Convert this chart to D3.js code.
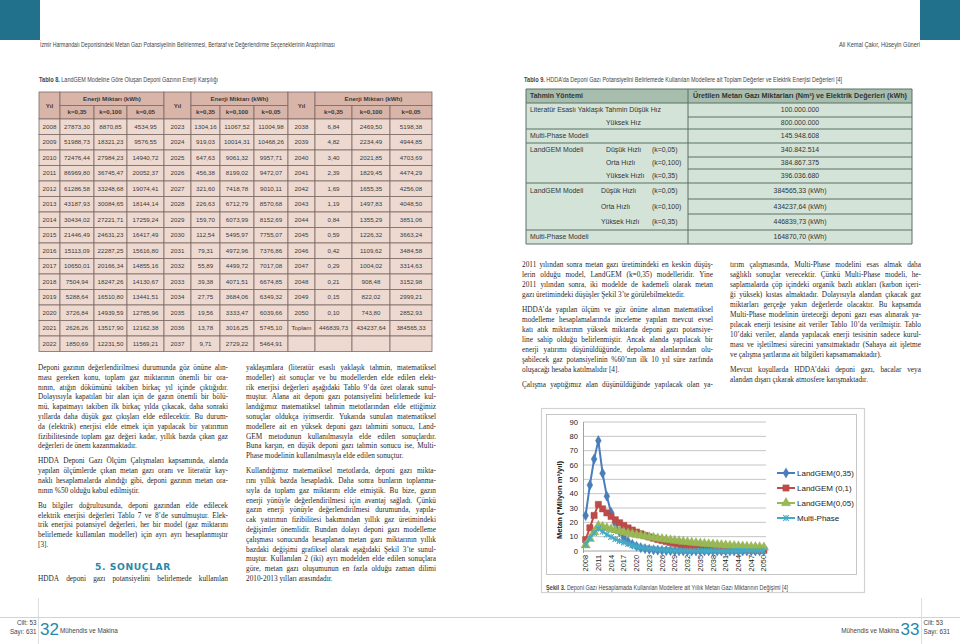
<!DOCTYPE html>
<html><head><meta charset="utf-8">
<script src="https://cdn.jsdelivr.net/npm/d3@7"></script>
<style>
body{margin:0;background:#fff;}
svg{display:block;}
.body{font-family:"Liberation Serif","Times New Roman",serif;font-size:7.3px;fill:#2a2a2a;}
.tb{font-family:"Liberation Sans",Arial,sans-serif;font-size:6.2px;fill:#3a3a3a;}
.tb9{font-family:"Liberation Sans",Arial,sans-serif;font-size:6.9px;fill:#333;}
.nar{font-family:"Liberation Sans Narrow","Liberation Sans",Arial,sans-serif;fill:#444;}
.ch{font-family:"Liberation Sans",Arial,sans-serif;fill:#222;}
</style></head><body><svg id="page" width="960" height="644"></svg>
<script>
// ---------------- DATA ----------------
// Table 8
const tYearsA = ["2008","2009","2010","2011","2012","2013","2014","2015","2016","2017","2018","2019","2020","2021","2022"];
const tK35A = ["27873,30","51988,73","72476,44","86969,80","61286,58","43187,93","30434,02","21446,49","15113,09","10650,01","7504,94","5288,64","3726,84","2626,26","1850,69"];
const tK100A = ["8870,85","18321,23","27984,23","36745,47","33248,68","30084,65","27221,71","24631,23","22287,25","20166,34","18247,26","16510,80","14939,59","13517,90","12231,50"];
const tK05A = ["4534,95","9576,55","14940,72","20052,37","19074,41","18144,14","17259,24","16417,49","15616,80","14855,16","14130,67","13441,51","12785,96","12162,38","11569,21"];
const tYearsB = ["2023","2024","2025","2026","2027","2028","2029","2030","2031","2032","2033","2034","2035","2036","2037"];
const tK35B = ["1304,16","919,03","647,63","456,38","321,60","226,63","159,70","112,54","79,31","55,89","39,38","27,75","19,56","13,78","9,71"];
const tK100B = ["11067,52","10014,31","9061,32","8199,02","7418,78","6712,79","6073,99","5495,97","4972,96","4499,72","4071,51","3684,06","3333,47","3016,25","2729,22"];
const tK05B = ["11004,98","10468,26","9957,71","9472,07","9010,11","8570,68","8152,69","7755,07","7376,86","7017,08","6674,85","6349,32","6039,66","5745,10","5464,91"];
const tYearsC = ["2038","2039","2040","2041","2042","2043","2044","2045","2046","2047","2048","2049","2050","Toplam",""];
const tK35C = ["6,84","4,82","3,40","2,39","1,69","1,19","0,84","0,59","0,42","0,29","0,21","0,15","0,10","446839,73",""];
const tK100C = ["2469,50","2234,49","2021,85","1829,45","1655,35","1497,83","1355,29","1226,32","1109,62","1004,02","908,48","822,02","743,80","434237,64",""];
const tK05C = ["5198,38","4944,85","4703,69","4474,29","4256,08","4048,50","3851,06","3663,24","3484,58","3314,63","3152,98","2999,21","2852,93","384565,33",""];
const t8Heads = ["Yıl","Enerji Miktarı (kWh)","k=0,35","k=0,100","k=0,05"];

// Table 9
const t9Heads = ["Tahmin Yöntemi","Üretilen Metan Gazı Miktarları (Nm³) ve Elektrik Değerleri (kWh)"];
const t9Col1 = ["Literatür Esaslı Yaklaşık Tahmin Düşük Hız","","Multi-Phase Modeli","LandGEM Modeli","","","LandGEM Modeli","","","Multi-Phase Modeli"];
const t9Col2 = ["","Yüksek Hız","","Düşük Hızlı","Orta Hızlı","Yüksek Hızlı","Düşük Hızlı","Orta Hızlı","Yüksek Hızlı",""];
const t9Col3 = ["","","","(k=0,05)","(k=0,100)","(k=0,35)","(k=0,05)","(k=0,100)","(k=0,35)",""];
const t9Values = ["100.000.000","800.000.000","145.948.608","340.842.514","384.867.375","396.036.680","384565,33 (kWh)","434237,64 (kWh)","446839,73 (kWh)","164870,70 (kWh)"];

// Chart (Şekil 3), million m3 / year
const chartYears = [2008,2009,2010,2011,2012,2013,2014,2015,2016,2017,2018,2019,2020,2021,2022,2023,2024,2025,2026,2027,2028,2029,2030,2031,2032,2033,2034,2035,2036,2037,2038,2039,2040,2041,2042,2043,2044,2045,2046,2047,2048,2049,2050];
const xTickLabels = [2008,2011,2014,2017,2020,2023,2026,2029,2032,2035,2038,2041,2044,2047,2050];
const yTicks = [0,10,20,30,40,50,60,70,80,90];
const landgem035 = [24.7,46.0,64.1,77.0,54.2,38.2,26.9,19.0,13.4,9.4,6.6,4.7,3.3,2.3,1.6,1.2,0.8,0.6,0.4,0.3,0.2,0.1,0.1,0.07,0.05,0.03,0.02,0.02,0.01,0.01,0,0,0,0,0,0,0,0,0,0,0,0,0];
const landgem01 = [7.9,16.2,24.8,32.5,29.4,26.6,24.1,21.8,19.7,17.8,16.1,14.6,13.2,12.0,10.8,9.8,8.9,8.0,7.3,6.6,5.9,5.4,4.9,4.4,4.0,3.6,3.3,2.9,2.7,2.4,2.2,2.0,1.8,1.6,1.5,1.3,1.2,1.1,1.0,0.9,0.8,0.7,0.7];
const landgem005 = [4.0,8.5,13.2,17.7,16.9,16.1,15.3,14.5,13.8,13.1,12.5,11.9,11.3,10.8,10.2,9.7,9.3,8.8,8.4,8.0,7.6,7.2,6.9,6.5,6.2,5.9,5.6,5.3,5.1,4.8,4.6,4.4,4.2,4.0,3.8,3.6,3.4,3.2,3.1,2.9,2.8,2.7,2.5];
const multiPhase = [4.5,9.0,12.5,15.5,13.5,11.5,9.8,8.3,7.0,5.9,4.9,4.0,3.2,2.5,2.0,1.6,1.3,1.0,0.8,0.6,0.5,0.4,0.3,0.25,0.2,0.15,0.12,0.1,0.08,0.06,0.05,0.04,0.03,0.03,0.02,0.02,0.01,0.01,0.01,0.01,0,0,0];
const seriesNames = ["LandGEM(0,35)","LandGEM (0,1)","LandGEM(0,05)","Multi-Phase"];

// Texts
const headerLeft = "İzmir Harmandalı Deponisindeki Metan Gazı Potansiyelinin Belirlenmesi, Bertaraf ve Değerlendirme Seçeneklerinin Araştırılması";
const headerRight = "Ali Kemal Çakır, Hüseyin Güneri";
const col1Paras = [
["Deponi gazının değerlendirilmesi durumunda göz önüne alın-","ması gereken konu, toplam gaz miktarının önemli bir ora-","nının, atığın dökümünü takiben birkaç yıl içinde çıktığıdır.","Dolayısıyla kapatılan bir alan için de gazın önemli bir bölü-","mü, kapatmayı takiben ilk birkaç yılda çıkacak, daha sonraki","yıllarda daha düşük gaz çıkışları elde edilecektir. Bu durum-","da (elektrik) enerjisi elde etmek için yapılacak bir yatırımın","fizibilitesinde toplam gaz değeri kadar, yıllık bazda çıkan gaz","değerleri de önem kazanmaktadır."],
["HDDA Deponi Gazı Ölçüm Çalışmaları kapsamında, alanda","yapılan ölçümlerde çıkan metan gazı oranı ve literatür kay-","naklı hesaplamalarda alındığı gibi, deponi gazının metan ora-","nının %50 olduğu kabul edilmiştir."],
["Bu bilgiler doğrultusunda, deponi gazından elde edilecek","elektrik enerjisi değerleri Tablo 7 ve 8’de sunulmuştur. Elek-","trik enerjisi potansiyel değerleri, her bir model (gaz miktarını","belirlemede kullanılan modeller) için ayrı ayrı hesaplanmıştır","[3]."]
];
const col1Heading = "5. SONUÇLAR";
const col1Tail = ["HDDA deponi gazı potansiyelini belirlemede kullanılan"];
const col2Paras = [
["yaklaşımlara (literatür esaslı yaklaşık tahmin, matematiksel","modeller) ait sonuçlar ve bu modellerden elde edilen elekt-","rik enerjisi değerleri aşağıdaki Tablo 9’da özet olarak sunul-","muştur. Alana ait deponi gazı potansiyelini belirlemede kul-","landığımız matematiksel tahmin metotlarından elde ettiğimiz","sonuçlar oldukça iyimserdir. Yukarıda sunulan matematiksel","modellere ait en yüksek deponi gazı tahmini sonucu, Land-","GEM metodunun kullanılmasıyla elde edilen sonuçlardır.","Buna karşın, en düşük deponi gazı tahmin sonucu ise, Multi-","Phase modelinin kullanılmasıyla elde edilen sonuçtur."],
["Kullandığımız matematiksel metotlarda, deponi gazı mikta-","rını yıllık bazda hesapladık. Daha sonra bunların toplanma-","sıyla da toplam gaz miktarını elde etmiştik. Bu bize, gazın","enerji yönüyle değerlendirilmesi için avantaj sağladı. Çünkü","gazın enerji yönüyle değerlendirilmesi durumunda, yapıla-","cak yatırımın fizibilitesi bakımından yıllık gaz üretimindeki","değişimler önemlidir. Bundan dolayı deponi gazı modelleme","çalışması sonucunda hesaplanan metan gazı miktarının yıllık","bazdaki değişimi grafiksel olarak aşağıdaki Şekil 3’te sunul-","muştur. Kullanılan 2 (iki) ayrı modelden elde edilen sonuçlara","göre, metan gazı oluşumunun en fazla olduğu zaman dilimi","2010-2013 yılları arasındadır."]
];
const col3Paras = [
["2011 yılından sonra metan gazı üretimindeki en keskin düşüş-","lerin olduğu model, LandGEM (k=0,35) modelleridir. Yine","2011 yılından sonra, iki modelde de kademeli olarak metan","gazı üretimindeki düşüşler Şekil 3’te görülebilmektedir."],
["HDDA’da yapılan ölçüm ve göz önüne alınan matematiksel","modelleme hesaplamalarında inceleme yapılan mevcut evsel","katı atık miktarının yüksek miktarda deponi gazı potansiye-","line sahip olduğu belirlenmiştir. Ancak alanda yapılacak bir","enerji yatırımı düşünüldüğünde, depolama alanlarından olu-","şabilecek gaz potansiyelinin %60’nın ilk 10 yıl süre zarfında","oluşacağı hesaba katılmalıdır [4]."],
["Çalışma yaptığımız alan düşünüldüğünde yapılacak olan ya-", ""]
];
const col4Paras = [
["tırım çalışmasında, Multi-Phase modelini esas almak daha","sağlıklı sonuçlar verecektir. Çünkü Multi-Phase modeli, he-","saplamalarda çöp içindeki organik bazlı atıkları (karbon içeri-","ği yüksek) kıstas almaktadır. Dolayısıyla alandan çıkacak gaz","miktarları gerçeğe yakın değerlerde olacaktır. Bu kapsamda","Multi-Phase modelinin üreteceği deponi gazı esas alınarak ya-","pılacak enerji tesisine ait veriler Tablo 10’da verilmiştir. Tablo","10’daki veriler, alanda yapılacak enerji tesisinin sadece kurul-","ması ve işletilmesi sürecini yansıtmaktadır (Sahaya ait işletme","ve çalışma şartlarına ait bilgileri kapsamamaktadır)."],
["Mevcut koşullarda HDDA’daki deponi gazı, bacalar veya","alandan dışarı çıkarak atmosfere karışmaktadır."]
];

// ---------------- DRAW ----------------
const svg = d3.select('#page');
svg.append('rect').attr('width',960).attr('height',644).attr('fill','#fff');
const TEAL = '#21708c';

// corner blocks
svg.append('rect').attr('x',0).attr('y',0).attr('width',40).attr('height',40).attr('fill',TEAL);
svg.append('rect').attr('x',920).attr('y',0).attr('width',40).attr('height',40).attr('fill',TEAL);
svg.append('text').attr('class','nar').attr('x',40).attr('y',47).attr('font-size',6.4)
  .attr('textLength',295).attr('lengthAdjust','spacingAndGlyphs').text(headerLeft);
svg.append('text').attr('class','nar').attr('x',920).attr('y',47).attr('font-size',6.4).attr('text-anchor','end')
  .attr('textLength',81).attr('lengthAdjust','spacingAndGlyphs').text(headerRight);

// captions (bold label + regular text as two separate texts)
function caption(parent,x,y,bold,rest,len){
  const b = parent.append('text').attr('class','nar').attr('x',x).attr('y',y).attr('font-size',6.4)
    .attr('font-weight','bold').attr('fill','#222').text(bold);
  const bw = b.node().getComputedTextLength()*0.88;
  b.attr('textLength',bw).attr('lengthAdjust','spacingAndGlyphs');
  parent.append('text').attr('class','nar').attr('x',x+bw+1.5).attr('y',y).attr('font-size',6.4).attr('fill','#444')
    .attr('textLength',len-bw-1.5).attr('lengthAdjust','spacingAndGlyphs').text(rest);
}
caption(svg,39,82,"Tablo 8.","LandGEM Modeline Göre Oluşan Deponi Gazının Enerji Karşılığı",179);
caption(svg,524,82,"Tablo 9.","HDDA’da Deponi Gazı Potansiyelini Belirlemede Kullanılan Modellere ait Toplam Değerler ve Elektrik Enerjisi Değerleri [4]",318);

// ---------- Table 8 ----------
(function(){
  const g = svg.append('g');
  const colEdges = [39,60,94,127,164,191,220,254,288,315,352,390,432];
  const top = 92, mid = 105.5, hb = 119;
  const groups = [[tYearsA,tK35A,tK100A,tK05A],[tYearsB,tK35B,tK100B,tK05B],[tYearsC,tK35C,tK100C,tK05C]];
  const rowY = d3.scaleBand().domain(d3.range(tYearsA.length)).range([hb,351.5]);
  const HB='#d9b4a8', DB='#eed9d0', BR='#7c6a64';
  function cell(x0,x1,y0,y1,fill,txt,bold){
    g.append('rect').attr('x',x0).attr('y',y0).attr('width',x1-x0).attr('height',y1-y0)
      .attr('fill',fill).attr('stroke',BR).attr('stroke-width',0.8);
    if(txt) g.append('text').attr('class','tb').attr('x',(x0+x1)/2).attr('y',(y0+y1)/2).attr('dy','0.36em')
      .attr('text-anchor','middle').attr('font-weight',bold?'bold':null).attr('fill',bold?'#333':null).text(txt);
  }
  groups.forEach((grp,gi)=>{
    const c = colEdges.slice(gi*4, gi*4+5);
    cell(c[0],c[1],top,hb,HB,t8Heads[0],true);
    cell(c[1],c[4],top,mid,HB,t8Heads[1],true);
    for(let k=0;k<3;k++) cell(c[1+k],c[2+k],mid,hb,HB,t8Heads[2+k],true);
    grp[0].forEach((yr,i)=>{
      const y0 = rowY(i), y1 = y0+rowY.bandwidth();
      for(let k=0;k<4;k++) cell(c[k],c[k+1],y0,y1,DB,grp[k][i],false);
    });
  });
})();

// ---------- Table 9 ----------
(function(){
  const g = svg.append('g');
  const L=526, M=688, R=912;
  const edges=[89,103,117,129,143,157,169,183,199,214,230,244];
  const groupEdges=[89,103,129,143,183,230,244];
  const HB='#a7bdae', DB='#d4e3d8', BR='#5b7064';
  g.append('rect').attr('x',L).attr('y',edges[0]).attr('width',R-L).attr('height',edges[1]-edges[0]).attr('fill',HB);
  g.append('rect').attr('x',L).attr('y',edges[1]).attr('width',R-L).attr('height',edges[edges.length-1]-edges[1]).attr('fill',DB);
  edges.forEach(e=>g.append('line').attr('x1',M).attr('x2',R).attr('y1',e).attr('y2',e).attr('stroke',BR).attr('stroke-width',1));
  groupEdges.forEach(e=>g.append('line').attr('x1',L).attr('x2',M).attr('y1',e).attr('y2',e).attr('stroke',BR).attr('stroke-width',1));
  [L,M,R].forEach(x=>g.append('line').attr('x1',x).attr('x2',x).attr('y1',edges[0]).attr('y2',edges[edges.length-1]).attr('stroke',BR).attr('stroke-width',1));
  const cy=i=>(edges[i]+edges[i+1])/2;
  g.append('text').attr('class','tb9').attr('x',530).attr('y',cy(0)).attr('dy','0.36em').attr('font-weight','bold').attr('fill','#222').text(t9Heads[0]);
  g.append('text').attr('class','tb9').attr('x',(M+R)/2).attr('y',cy(0)).attr('dy','0.36em').attr('text-anchor','middle').attr('font-weight','bold').attr('fill','#222')
    .attr('textLength',214).attr('lengthAdjust','spacingAndGlyphs').text(t9Heads[1]);
  t9Values.forEach((v,i)=>{
    const y = cy(i+1);
    if(t9Col1[i]) g.append('text').attr('class','tb9').attr('x',530).attr('y',y).attr('dy','0.36em').text(t9Col1[i]);
    if(t9Col2[i]) g.append('text').attr('class','tb9').attr('x',i>=6?601:606).attr('y',y).attr('dy','0.36em').text(t9Col2[i]);
    if(t9Col3[i]) g.append('text').attr('class','tb9').attr('x',652).attr('y',y).attr('dy','0.36em').text(t9Col3[i]);
    g.append('text').attr('class','tb9').attr('x',(M+R)/2).attr('y',y).attr('dy','0.36em').attr('text-anchor','middle').text(v);
  });
})();

// ---------- Body text ----------
const measureG = svg.append('g');
function wordW(w){
  const t = measureG.append('text').attr('class','body').text(w);
  const l = t.node().getComputedTextLength(); t.remove(); return l;
}
function drawParas(paras, x, y0, w, lh, pgap){
  let y = y0;
  paras.forEach(lines=>{
    lines.forEach((ln,i)=>{
      if(!ln){ return; }
      const last = (i===lines.length-1);
      const t = svg.append('text').attr('class','body').attr('y',y+i*lh);
      const words = ln.split(' ');
      if(last || words.length<2){ t.attr('x',x).text(ln); return; }
      const ws = words.map(wordW);
      const gap = (w - d3.sum(ws))/(words.length-1);
      if(gap < 0.8){ t.attr('x',x).attr('textLength',w).attr('lengthAdjust','spacingAndGlyphs').text(ln); return; }
      let cx = x;
      words.forEach((wd,j)=>{ t.append('tspan').attr('x',cx).text(wd); cx += ws[j]+gap; });
    });
    y += lines.length*lh + pgap;
  });
  return y;
}
drawParas(col1Paras, 38, 370, 190, 9.8, 5.2);
svg.append('text').attr('x',133).attr('y',569.5).attr('text-anchor','middle')
  .attr('font-family','"DejaVu Sans","Liberation Sans",sans-serif').attr('font-weight','bold')
  .attr('font-size',9.2).attr('letter-spacing',0.6).attr('fill','#2a87a8').text(col1Heading);
drawParas([col1Tail.concat([""])], 38, 581, 190, 9.8, 0);
drawParas(col2Paras, 246, 370, 190, 9.8, 5.2);
drawParas(col3Paras, 522, 267, 191, 10, 5);
drawParas(col4Paras, 730, 267, 191, 10, 5);

// ---------- Chart ----------
(function(){
  const g = svg.append('g');
  g.append('rect').attr('x',541.5).attr('y',408.5).attr('width',323).attr('height',184).attr('fill','#fff').attr('stroke','#cfd3d6').attr('stroke-width',1.2);
  g.append('rect').attr('x',546.5).attr('y',414.5).attr('width',310).attr('height',160).attr('fill','#fff').attr('stroke','#b8b8b8').attr('stroke-width',0.8);
  caption(g,546,590,'Şekil 3.','Deponi Gazı Hesaplamada Kullanılan Modellere ait Yıllık Metan Gazı Miktarının Değişimi [4]',242);

  const x = d3.scaleBand().domain(chartYears).range([583.5,766]);
  const xc = d => x(d)+x.bandwidth()/2;
  const y = d3.scaleLinear().domain([0,90]).range([551,422]);
  g.selectAll('.grid').data(yTicks).join('line')
    .attr('x1',583.5).attr('x2',766).attr('y1',d=>y(d)).attr('y2',d=>y(d))
    .attr('stroke',d=>d===0?'#8c8c8c':'#b5b5b5').attr('stroke-width',0.8);
  g.append('line').attr('x1',583.5).attr('x2',583.5).attr('y1',y(90)).attr('y2',y(0)+2).attr('stroke','#8c8c8c').attr('stroke-width',0.8);
  g.selectAll('.yl').data(yTicks).join('text').attr('class','ch')
    .attr('x',578).attr('y',d=>y(d)).attr('dy','0.35em').attr('text-anchor','end').attr('font-size',7.6).text(d=>d);
  g.selectAll('.xl').data(xTickLabels).join('text').attr('class','ch')
    .attr('transform',d=>`translate(${xc(d)},555) rotate(-90)`).attr('dy','0.35em')
    .attr('text-anchor','end').attr('font-size',7.4).text(d=>d);
  g.append('text').attr('class','ch').attr('transform','translate(559,500) rotate(-90)')
    .attr('text-anchor','middle').attr('dy','0.35em').attr('font-size',7.6).attr('font-weight','bold').text('Metan (*Milyon m³/yıl)');

  const colors = ['#4a7ebb','#be4b48','#98b954','#46aac5'];
  const seriesData = [landgem035, landgem01, landgem005, multiPhase];
  const symTypes = [d3.symbolDiamond, d3.symbolSquare, d3.symbolTriangle, d3.symbolTimes];
  const symSizes = [30, 40, 38, 22];
  const line = d3.line().x((d,i)=>xc(chartYears[i])).y(d=>y(d));
  function marker(sel, k){
    const p = d3.symbol().type(symTypes[k]).size(symSizes[k])();
    if(k===3){
      sel.append('path').attr('d',p).attr('fill','none').attr('stroke',colors[k]).attr('stroke-width',1.1);
      sel.append('path').attr('d','M0,-3V3').attr('stroke',colors[k]).attr('stroke-width',1.1);
    } else {
      sel.append('path').attr('d',p).attr('fill',colors[k]).attr('stroke',d3.color(colors[k]).darker(0.2)).attr('stroke-width',0.4);
    }
  }
  seriesData.forEach((s,k)=>{
    g.append('path').datum(s).attr('d',line).attr('fill','none').attr('stroke',colors[k]).attr('stroke-width',2);
    s.forEach((v,i)=>{
      const m = g.append('g').attr('transform',`translate(${xc(chartYears[i])},${y(v)})`);
      marker(m,k);
    });
  });
  const legY = [473,488,503,518];
  seriesNames.forEach((n,k)=>{
    g.append('line').attr('x1',777).attr('x2',795).attr('y1',legY[k]).attr('y2',legY[k]).attr('stroke',colors[k]).attr('stroke-width',2);
    marker(g.append('g').attr('transform',`translate(786,${legY[k]})`),k);
    g.append('text').attr('class','ch').attr('x',797).attr('y',legY[k]).attr('dy','0.35em').attr('font-size',8).text(n);
  });
})();

// ---------- Footer ----------
svg.append('line').attr('x1',0).attr('x2',960).attr('y1',617.5).attr('y2',617.5).attr('stroke','#c8c8c8').attr('stroke-width',0.8);
[38.5,921.5].forEach(xv=>svg.append('line').attr('x1',xv).attr('x2',xv).attr('y1',598).attr('y2',644).attr('stroke','#d6d6d6').attr('stroke-width',0.8));
function footSmall(x,y,t,anchor){ svg.append('text').attr('class','nar').attr('x',x).attr('y',y).attr('font-size',6.3).attr('fill','#444').attr('text-anchor',anchor||'start').text(t); }
footSmall(36.5,625,'Cilt: 53','end'); footSmall(36.5,633.5,'Sayı: 631','end');
footSmall(923.5,625,'Cilt: 53'); footSmall(923.5,633.5,'Sayı: 631');
svg.append('text').attr('x',40).attr('y',635).attr('font-family','"Liberation Sans Narrow","Liberation Sans",sans-serif').attr('font-size',17).attr('fill','#2a87a8').text('32');
svg.append('text').attr('x',919.5).attr('y',635).attr('text-anchor','end').attr('font-family','"Liberation Sans Narrow","Liberation Sans",sans-serif').attr('font-size',17).attr('fill','#2a87a8').text('33');
footSmall(60,633,'Mühendis ve Makina');
footSmall(899,633,'Mühendis ve Makina','end');
</script></body></html>
